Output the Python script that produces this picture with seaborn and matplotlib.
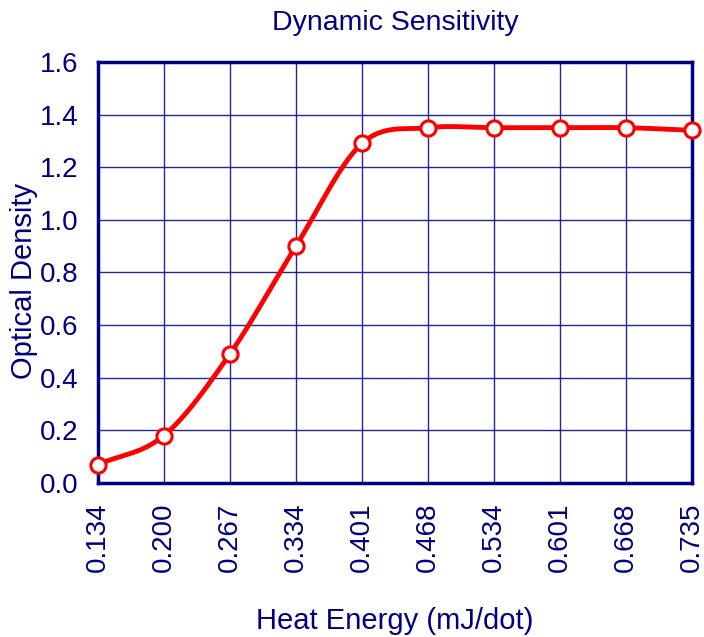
import numpy as np
import pandas as pd
import seaborn as sns
import matplotlib
matplotlib.use("Agg")
import matplotlib.pyplot as plt

# Data
heat_energy = ["0.134", "0.200", "0.267", "0.334", "0.401",
               "0.468", "0.534", "0.601", "0.668", "0.735"]
optical_density = [0.07, 0.18, 0.49, 0.90, 1.29, 1.35, 1.35, 1.35, 1.35, 1.34]

navy = "#000080"

sns.set_style("white")
plt.rcParams["font.family"] = ["Liberation Sans", "DejaVu Sans"]

df = pd.DataFrame({"pos": np.arange(len(heat_energy)), "od": optical_density})

# smooth line through the points (Catmull-Rom), markers stay on data
def catmull_rom(x, y, n=30):
    x = np.asarray(x, float)
    y = np.asarray(y, float)
    px = np.concatenate([[2 * x[0] - x[1]], x, [2 * x[-1] - x[-2]]])
    py = np.concatenate([[2 * y[0] - y[1]], y, [2 * y[-1] - y[-2]]])
    xs, ys = [], []
    t = np.linspace(0, 1, n)
    for i in range(1, len(px) - 2):
        for p, out in ((px, xs), (py, ys)):
            p0, p1, p2, p3 = p[i - 1], p[i], p[i + 1], p[i + 2]
            out.append(0.5 * (2 * p1 + (-p0 + p2) * t
                              + (2 * p0 - 5 * p1 + 4 * p2 - p3) * t ** 2
                              + (-p0 + 3 * p1 - 3 * p2 + p3) * t ** 3))
    return np.concatenate(xs), np.concatenate(ys)

sx, sy = catmull_rom(df["pos"], df["od"])
smooth = pd.DataFrame({"pos": sx, "od": sy})

fig = plt.figure(figsize=(7.04, 6.37), dpi=100)
ax = fig.add_axes([0.139, 0.2418, 0.844, 0.661])

sns.lineplot(data=smooth, x="pos", y="od", color="red", linewidth=3.5,
             ax=ax, clip_on=False, zorder=3)
sns.scatterplot(data=df, x="pos", y="od", s=120, color="white",
                edgecolor="red", linewidth=2.2, ax=ax, clip_on=False, zorder=4)

ax.set_xlim(0, len(heat_energy) - 1)
ax.set_ylim(0, 1.6)
ax.set_xticks(df["pos"])
ax.set_xticklabels(heat_energy, rotation=90)
ax.set_yticks(np.arange(0, 1.61, 0.2))
ax.set_yticklabels([f"{v:.1f}" for v in np.arange(0, 1.61, 0.2)])

ax.grid(True, color=navy, linewidth=1.0, alpha=0.85)
ax.set_axisbelow(True)
for s in ax.spines.values():
    s.set_color(navy)
    s.set_linewidth(2.5)
ax.tick_params(axis="both", colors=navy, labelsize=20, length=0, pad=14)

ax.set_title("Dynamic Sensitivity", color=navy, fontsize=20.5, pad=23)
ax.set_xlabel("Heat Energy (mJ/dot)", color=navy, fontsize=21, labelpad=25)
ax.set_ylabel("Optical Density", color=navy, fontsize=21)
ax.yaxis.set_label_coords(-0.100, 0.479)

fig.savefig("out.png", dpi=100)
